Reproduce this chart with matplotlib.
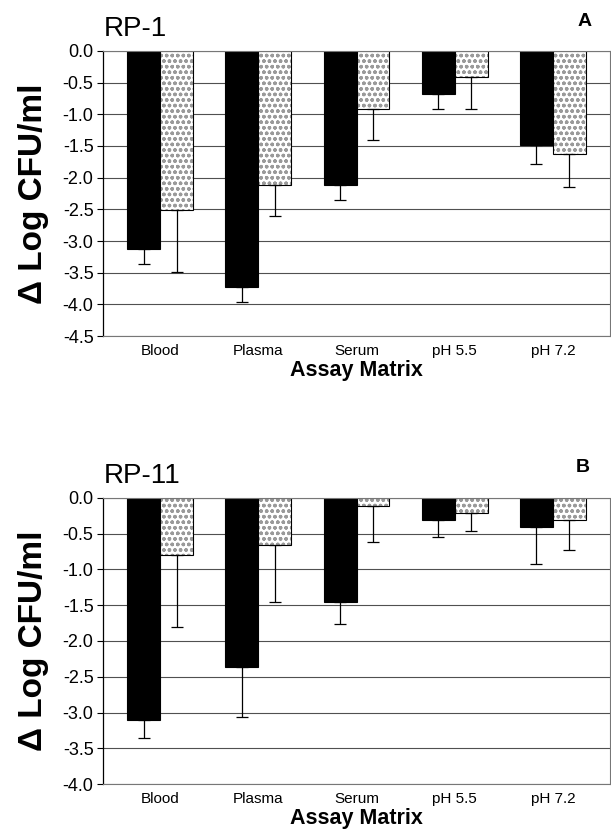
import numpy as np
import matplotlib
matplotlib.use("Agg")
from matplotlib import pyplot as plt

plt.rcParams['font.family'] = ['Liberation Sans', 'DejaVu Sans']

### Dane

matrices = ['Blood', 'Plasma', 'Serum', 'pH 5.5', 'pH 7.2']

# RP-1 (panel A)
rp1_black = [-3.12, -3.73, -2.12, -0.68, -1.48]
rp1_black_err = [0.24, 0.24, 0.24, 0.24, 0.30]
rp1_gray = [-2.51, -2.11, -0.91, -0.41, -1.63]
rp1_gray_err = [0.98, 0.50, 0.50, 0.51, 0.52]

# RP-11 (panel B)
rp11_black = [-3.11, -2.37, -1.46, -0.31, -0.41]
rp11_black_err = [0.25, 0.69, 0.30, 0.24, 0.51]
rp11_gray = [-0.80, -0.66, -0.11, -0.21, -0.31]
rp11_gray_err = [1.00, 0.80, 0.50, 0.25, 0.42]


def panel(ax, black, black_err, gray, gray_err, ymin, title):
    x = np.arange(len(matrices))
    w = 0.335
    ax.set_axisbelow(True)
    ax.yaxis.grid(True, color='#505050', linewidth=0.8)

    ax.bar(x - w/2, black, w, color='black', edgecolor='black', linewidth=0.8)
    ax.bar(x + w/2, gray, w, color='white', edgecolor='#9a9a9a',
           hatch='ooo', linewidth=0)
    ax.bar(x + w/2, gray, w, fill=False, edgecolor='black', linewidth=0.8)

    ax.errorbar(x - w/2, black, yerr=[black_err, [0]*len(x)], fmt='none',
                ecolor='black', elinewidth=0.9, capsize=4, capthick=0.9)
    ax.errorbar(x + w/2, gray, yerr=[gray_err, [0]*len(x)], fmt='none',
                ecolor='black', elinewidth=0.9, capsize=4, capthick=0.9)

    ax.set_xlim(-0.58, 4.58)
    ax.set_ylim(ymin, 0)
    ticks = np.arange(ymin, 0.01, 0.5)
    ax.set_yticks(ticks)
    ax.set_yticklabels([f'{v:.1f}' for v in ticks], fontsize=13)
    ax.set_xticks(x)
    ax.set_xticklabels(matrices, fontsize=11)
    ax.tick_params(axis='x', length=0, pad=6)
    ax.tick_params(axis='y', length=4, width=0.8, direction='out', pad=3)

    ax.spines['left'].set_color('black')
    ax.spines['left'].set_linewidth(0.9)
    for s in ['top', 'right', 'bottom']:
        ax.spines[s].set_color('#777777')
        ax.spines[s].set_linestyle((0, (2, 1)))
        ax.spines[s].set_linewidth(0.8)

    ax.set_xlabel('Assay Matrix', fontsize=15.5, fontweight='bold', labelpad=1)
    ax.set_ylabel('\u0394 Log CFU/ml', fontsize=24, fontweight='bold', labelpad=10)
    ax.text(0.0, 1.03, title, transform=ax.transAxes, fontsize=20,
            ha='left', va='bottom')


fig = plt.figure(figsize=[6.11, 8.33], dpi=100, facecolor='white')

ax1 = fig.add_axes([0.169, 0.5966, 0.829, 0.3422])
panel(ax1, rp1_black, rp1_black_err, rp1_gray, rp1_gray_err, -4.5, 'RP-1')
fig.text(0.956, 0.974, 'A', fontsize=14, fontweight='bold', ha='center', va='center')

ax2 = fig.add_axes([0.169, 0.0588, 0.829, 0.3434])
panel(ax2, rp11_black, rp11_black_err, rp11_gray, rp11_gray_err, -4.0, 'RP-11')
fig.text(0.953, 0.439, 'B', fontsize=14, fontweight='bold', ha='center', va='center')

fig.savefig('out.png', dpi=100)
